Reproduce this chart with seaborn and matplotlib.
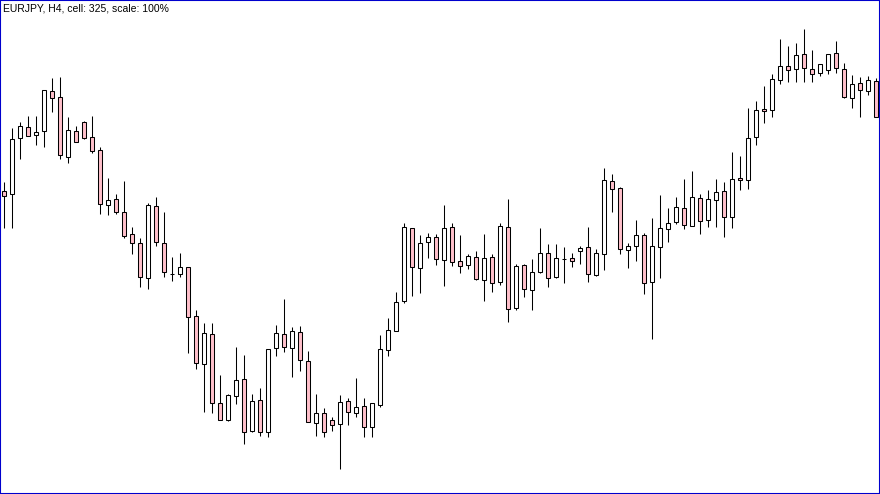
import numpy as np
import pandas as pd
import matplotlib
matplotlib.use('Agg')
import matplotlib.pyplot as plt
import seaborn as sns

# EURJPY H4 のローソク足（画面上端からの位置で読み取った値、上が高値）
opens = [191, 194, 138, 127, 135, 131, 91, 97, 157, 131,
         122, 137, 150, 205, 199, 212, 234, 243, 278, 206,
         243, 274, 274, 267, 316, 364, 334, 403, 420, 396,
         379, 431, 400, 432, 348, 334, 348, 332, 361, 423,
         413, 420, 424, 401, 413, 406, 427, 405, 350, 331,
         301, 228, 268, 242, 237, 260, 227, 261, 265, 257,
         280, 257, 282, 227, 308, 265, 290, 272, 253, 277,
         259, 258, 251, 247, 275, 254, 181, 188, 250, 246,
         235, 282, 247, 229, 222, 208, 226, 198, 220, 200,
         191, 217, 178, 180, 137, 109, 110, 80, 66, 69,
         54, 69, 73, 70, 53, 69, 98, 83, 91, 81]
closes = [196, 139, 126, 136, 132, 90, 98, 155, 130, 142,
          138, 151, 204, 200, 212, 236, 243, 277, 205, 242,
          272, 274, 267, 317, 363, 333, 403, 420, 395, 380,
          432, 401, 432, 349, 333, 347, 331, 360, 422, 413,
          432, 425, 402, 412, 407, 427, 403, 349, 330, 302,
          227, 267, 243, 237, 259, 228, 262, 266, 256, 279,
          258, 283, 226, 309, 266, 289, 272, 253, 278, 258,
          259, 261, 248, 274, 253, 180, 189, 249, 246, 235,
          283, 246, 228, 223, 207, 225, 197, 221, 199, 192,
          217, 179, 180, 138, 110, 111, 79, 66, 70, 55,
          68, 74, 64, 54, 68, 97, 84, 90, 80, 117]
highs = [182, 128, 122, 116, 116, 90, 78, 77, 117, 126,
         121, 116, 147, 178, 194, 181, 227, 238, 203, 197,
         212, 257, 253, 267, 310, 323, 323, 375, 394, 347,
         355, 394, 388, 349, 325, 299, 327, 326, 351, 394,
         408, 417, 395, 398, 378, 398, 403, 335, 318, 292,
         223, 228, 235, 233, 234, 205, 223, 235, 254, 251,
         234, 254, 223, 199, 264, 264, 259, 228, 244, 244,
         247, 253, 246, 227, 249, 168, 174, 187, 243, 220,
         233, 218, 195, 208, 197, 179, 171, 194, 190, 179,
         182, 152, 156, 108, 101, 86, 74, 39, 46, 43,
         29, 50, 64, 54, 41, 63, 75, 77, 76, 78]
lows = [228, 228, 159, 136, 145, 147, 112, 159, 163, 142,
        139, 153, 214, 215, 214, 238, 254, 287, 289, 246,
        277, 281, 277, 353, 369, 412, 413, 420, 421, 404,
        444, 432, 436, 437, 356, 352, 377, 371, 422, 436,
        437, 431, 469, 425, 417, 437, 437, 407, 356, 331,
        303, 296, 293, 258, 265, 286, 266, 273, 269, 280,
        301, 292, 285, 322, 310, 297, 310, 273, 287, 278,
        283, 267, 264, 282, 276, 270, 212, 254, 268, 261,
        294, 339, 278, 242, 224, 229, 226, 234, 227, 227,
        237, 228, 190, 189, 145, 123, 117, 84, 82, 82,
        82, 82, 76, 74, 73, 98, 108, 117, 95, 117]

df = pd.DataFrame({'open': opens, 'high': highs, 'low': lows, 'close': closes})
df['bar'] = np.arange(len(df))
df['up'] = df['close'] < df['open']   # 画面座標なので値が小さいほど高い

sns.set_style('white')
plt.rcParams['font.family'] = ['Liberation Sans', 'DejaVu Sans']

fig = plt.figure(figsize=(8.8, 4.94), dpi=100)
ax = fig.add_axes([0, 0, 1, 1])

# ヒゲ
ax.vlines(df['bar'], df['high'], df['low'], color='black', linewidth=0.75, zorder=1)

# 実体
body_bottom = df[['open', 'close']].min(axis=1)
body_height = (df['open'] - df['close']).abs()
colors = np.where(df['up'], 'white', '#ffc0cb')
ax.bar(df['bar'], body_height, bottom=body_bottom, width=0.5,
       color=colors, edgecolor='black', linewidth=0.75, zorder=2)

ax.set_xlim(-0.5, len(df) - 0.5)
ax.set_ylim(494, 0)
ax.set_xticks([])
ax.set_yticks([])
for s in ax.spines.values():
    s.set_color('#0000cd')
    s.set_linewidth(1.5)

ax.text(0.003, 0.993, 'EURJPY, H4, cell: 325, scale: 100%', transform=ax.transAxes,
        ha='left', va='top', fontsize=7.5, color='black')

plt.savefig('out.png', dpi=100)
plt.close('all')
